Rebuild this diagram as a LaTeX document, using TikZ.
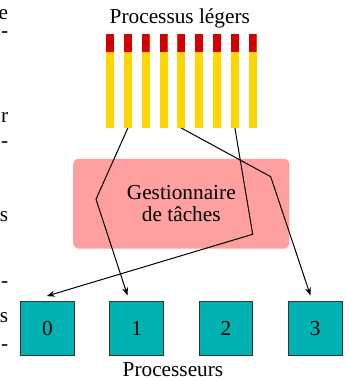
\documentclass[tikz,border=0pt]{standalone}
\usepackage{fontspec}
\setmainfont{Liberation Serif}
\usetikzlibrary{arrows.meta}
\definecolor{threadyellow}{RGB}{255,214,0}
\definecolor{threadred}{RGB}{210,0,0}
\definecolor{schedpink}{RGB}{255,160,160}
\definecolor{cputeal}{RGB}{0,178,178}

\begin{document}
\begin{tikzpicture}[font=\fontsize{10.65}{11.2}\selectfont,
  thread/.style={rectangle, fill=threadyellow, minimum width=0.14cm, minimum height=1.64cm, inner sep=0pt,
    path picture={\fill[threadred] (path picture bounding box.north west) rectangle ([yshift=-0.31cm]path picture bounding box.north east);}},
  cpu/.style={rectangle, draw=black!80, fill=cputeal, minimum size=0.94cm, inner sep=0pt},
  frag/.style={anchor=east, inner sep=0pt},
  link/.style={-{Stealth[length=4pt,width=3pt]}, line width=0.5pt}]
\useasboundingbox (0,0) rectangle (6.133,6.678);

% Cut-off text at the left edge
\node[frag] (frag1) at (0.15,6.414) {e};
\node[frag] (frag2) at (0.15,6.063) {-};
\node[frag] (frag3) at (0.15,4.622) {r};
\node[frag] (frag4) at (0.15,4.130) {-};
\node[frag] (frag5) at (0.15,2.864) {s};
\node[frag] (frag6) at (0.15,1.669) {-};
\node[frag] (frag7) at (0.15,1.090) {s};
\node[frag] (frag8) at (0.15,0.562) {-};

% Light-weight threads
\node (threads) at (3.16,6.35) {Processus légers};
\node[thread] (t1) at (1.933,5.255) {};
\node[thread] (t2) at (2.247,5.255) {};
\node[thread] (t3) at (2.560,5.255) {};
\node[thread] (t4) at (2.874,5.255) {};
\node[thread] (t5) at (3.187,5.255) {};
\node[thread] (t6) at (3.501,5.255) {};
\node[thread] (t7) at (3.814,5.255) {};
\node[thread] (t8) at (4.128,5.255) {};
\node[thread] (t9) at (4.441,5.255) {};

% Task manager
\node[rectangle, rounded corners=0.1cm, fill=schedpink, minimum width=3.8cm, minimum height=1.58cm, align=center] (sched) at (3.186,3.098) {Gestionnaire\\de tâches};

% Processors
\node[cpu] (p0) at (0.832,0.908) {0};
\node[cpu] (p1) at (2.401,0.908) {1};
\node[cpu] (p2) at (3.971,0.908) {2};
\node[cpu] (p3) at (5.541,0.908) {3};
\node (cpus) at (3.04,0.18) {Processeurs};

% Scheduling paths
\coordinate (bendA) at (1.687,3.177);
\coordinate (bendB) at (4.757,3.573);
\coordinate (bendC) at (4.441,2.561);
\draw[link] (t2.south) -- (bendA) -- ([xshift=-0.16cm,yshift=0.1cm]p1.north);
\draw[link] (t5.south) -- (bendB) -- ([xshift=-0.085cm,yshift=0.1cm]p3.north);
\draw[link] (t8.south) -- (bendC) -- ([xshift=-0.01cm,yshift=0.09cm]p0.north);
\end{tikzpicture}
\end{document}
